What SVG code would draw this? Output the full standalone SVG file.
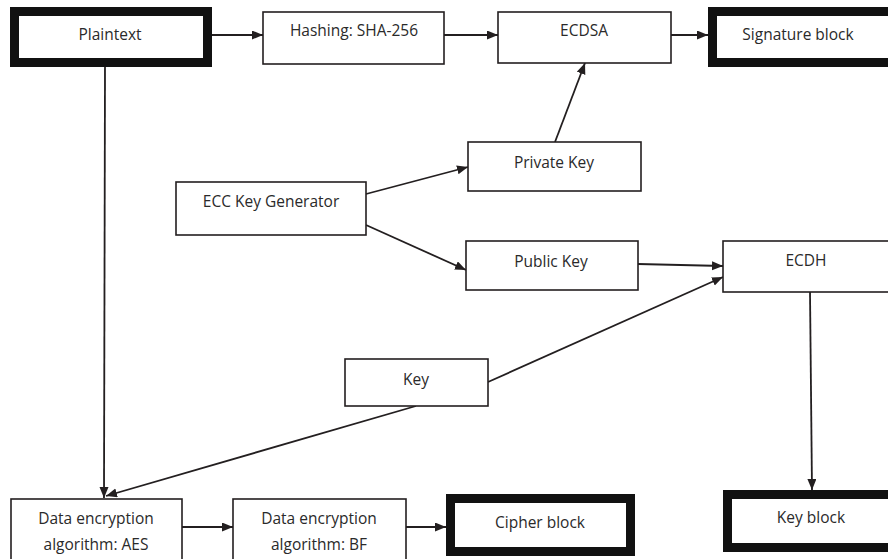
<svg xmlns="http://www.w3.org/2000/svg" width="888" height="559" viewBox="0 0 888 559">
<style>
  .bg { fill: #ffffff; }
  .box { fill: #ffffff; stroke: #231f20; stroke-width: 1.6; }
  .thick { fill: #ffffff; stroke: #111111; stroke-width: 9; }
  .lbl { font-family: "Open Sans", "Liberation Sans", sans-serif; font-size: 15.5px; fill: #2a2a2a; text-anchor: middle; }
  .edge { fill: none; stroke: #231f20; stroke-width: 1.8; marker-end: url(#arr); }
</style>
<defs>
  <marker id="arr" markerUnits="userSpaceOnUse" markerWidth="12" markerHeight="10" refX="11" refY="4.5" orient="auto">
    <path d="M0,0 L11,4.5 L0,9 z" fill="#231f20"/>
  </marker>
</defs>
<rect class="bg" x="0" y="0" width="888" height="559"/>

<g id="connectors">
  <line class="edge" x1="212" y1="35" x2="263" y2="35"/>
  <line class="edge" x1="444" y1="35" x2="498" y2="35"/>
  <line class="edge" x1="671" y1="35" x2="708" y2="35"/>
  <line class="edge" x1="555" y1="142" x2="585" y2="63"/>
  <line class="edge" x1="366" y1="194" x2="468" y2="167"/>
  <line class="edge" x1="366" y1="225" x2="466" y2="270"/>
  <line class="edge" x1="638" y1="264" x2="723" y2="266"/>
  <line class="edge" x1="488" y1="382" x2="723" y2="277"/>
  <line class="edge" x1="810" y1="292" x2="812" y2="490"/>
  <line class="edge" x1="105" y1="67" x2="104" y2="498"/>
  <line class="edge" x1="416" y1="406" x2="106" y2="496"/>
  <line class="edge" x1="182" y1="527" x2="233" y2="527"/>
  <line class="edge" x1="406" y1="527" x2="446" y2="527"/>
</g>

<g id="plaintext">
  <rect class="thick" x="14.5" y="11.5" width="193" height="51"/>
  <text class="lbl" x="110" y="40">Plaintext</text>
</g>
<g id="hashing">
  <rect class="box" x="263" y="12" width="181" height="52"/>
  <text class="lbl" x="354" y="36">Hashing: SHA-256</text>
</g>
<g id="ecdsa">
  <rect class="box" x="498" y="12" width="173" height="51"/>
  <text class="lbl" x="584" y="36">ECDSA</text>
</g>
<g id="signature-block">
  <rect class="thick" x="712.5" y="11.5" width="180" height="51"/>
  <text class="lbl" x="798" y="40">Signature block</text>
</g>
<g id="private-key">
  <rect class="box" x="468" y="142" width="173" height="49"/>
  <text class="lbl" x="554" y="168">Private Key</text>
</g>
<g id="ecc-key-generator">
  <rect class="box" x="176" y="182" width="190" height="53"/>
  <text class="lbl" x="271" y="207">ECC Key Generator</text>
</g>
<g id="public-key">
  <rect class="box" x="466" y="241" width="172" height="49"/>
  <text class="lbl" x="551" y="267">Public Key</text>
</g>
<g id="ecdh">
  <rect class="box" x="723" y="241" width="180" height="51"/>
  <text class="lbl" x="806" y="266">ECDH</text>
</g>
<g id="key">
  <rect class="box" x="345" y="359" width="143" height="47"/>
  <text class="lbl" x="416" y="385">Key</text>
</g>
<g id="aes">
  <rect class="box" x="11" y="499" width="171" height="70"/>
  <text class="lbl" x="96" y="524">Data encryption</text>
  <text class="lbl" x="96" y="550">algorithm: AES</text>
</g>
<g id="bf">
  <rect class="box" x="233" y="499" width="173" height="70"/>
  <text class="lbl" x="319" y="524">Data encryption</text>
  <text class="lbl" x="319" y="550">algorithm: BF</text>
</g>
<g id="cipher-block">
  <rect class="thick" x="450.5" y="498.5" width="180" height="53"/>
  <text class="lbl" x="540" y="528">Cipher block</text>
</g>
<g id="key-block">
  <rect class="thick" x="727.5" y="494.5" width="180" height="53"/>
  <text class="lbl" x="811" y="523">Key block</text>
</g>
</svg>
